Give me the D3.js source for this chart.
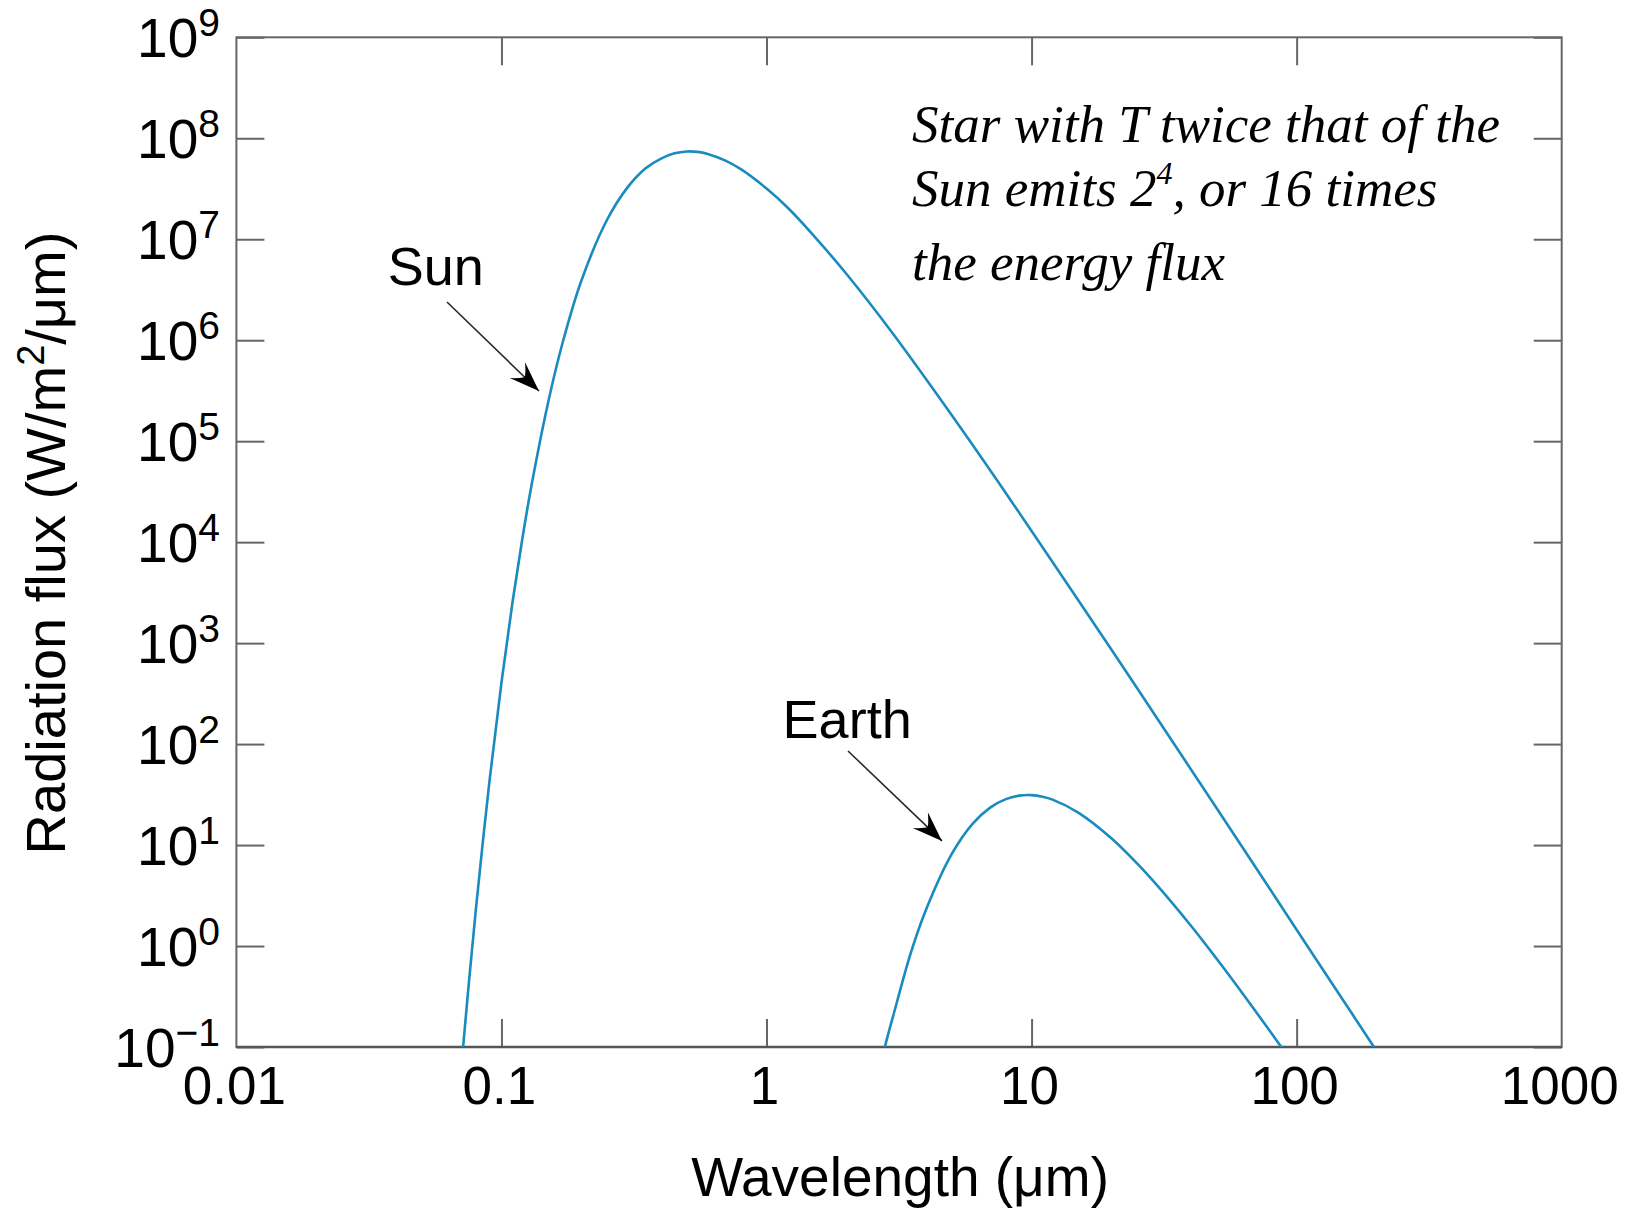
<!DOCTYPE html>
<html><head><meta charset="utf-8">
<script src="https://cdn.jsdelivr.net/npm/d3@7"></script>
<style>
html,body{margin:0;padding:0;background:#fff;}
svg{display:block;}
</style></head>
<body>
<svg id="chart" width="1626" height="1211"></svg>
<script>
// ---- data (wavelength in µm, flux in W/m²/µm) ----
const sunWavelength = [0.07,0.072,0.075,0.08,0.09,0.1,0.11,0.12,0.13,0.15,0.17,0.2,0.25,0.3,0.35,0.4,0.45,0.5,0.55,0.6,0.7,0.8,1,1.2,1.5,2,3,5,7,10,20,30,50,70,100,150,200,220];
const sunFlux = [0.0486,0.115,0.381,2.26,41.8,407,2510,1.10e4,3.72e4,2.42e5,9.38e5,3.86e6,1.55e7,3.3e7,5.05e7,6.29e7,7.09e7,7.40e7,7.33e7,7.00e7,6.01e7,4.94e7,3.18e7,2.06e7,1.10e7,4.55e6,1.16e6,1.81e5,5.10e4,1.29e4,865,174,23.0,6.04,1.45,0.289,0.0918,0.0627];
const earthWavelength = [2.7,2.8,2.9,3,3.5,4,5,6,7,8,9,10,11,12,15,20,25,30,40,50,60,70,80,90,95];
const earthFlux = [0.072,0.102,0.145,0.2,0.85,2.3,8.17,16.3,23.6,28.5,30.9,31.2,30.1,28.2,21.0,11.7,6.59,3.90,1.58,0.744,0.393,0.226,0.139,0.0900,0.0737];

const xTickValues = [0.01,0.1,1,10,100,1000];
const xTickLabels = ["0.01","0.1","1","10","100","1000"];
const yTickExponents = [-1,0,1,2,3,4,5,6,7,8,9];
const yTickBase = "10";
const xInnerTicks = [0.1,1,10,100];

const xTitle = "Wavelength (\u03bcm)";
const yTitleParts = ["Radiation flux (W/m", "2", "/\u03bcm)"];
const sunLabel = "Sun";
const earthLabel = "Earth";
const noteLines = [
  [["Star with T twice that of the", false]],
  [["Sun emits 2", false], ["4", true], [", or 16 times", false]],
  [["the energy flux", false]]
];
const noteLineOffsets = [0, 64, 138];
// annotation anchors, in data units [wavelength, flux]
const sunLabelAt = [0.0372, 3.52e6];
const sunArrow = [[0.0623, 2.39e6], [0.1385, 3.14e5]];
const earthLabelAt = [1.15, 115];
const earthArrow = [[2.03, 85.4], [4.59, 11.0]];
const noteAt = [3.54, 9.18e7];

// ---- layout ----
const W = 1626, H = 1211;
const plot = {left: 236.4, right: 1561.7, top: 37.3, bottom: 1047};
const svg = d3.select("#chart");

const x = d3.scaleLog().domain([0.01, 1000]).range([plot.left, plot.right]);
const y = d3.scaleLog().domain([0.1, 1e9]).range([plot.bottom, plot.top]);

const sans = "'Liberation Sans', Arial, Helvetica, sans-serif";
const serif = "'Liberation Serif', 'Times New Roman', Times, serif";
const frameColor = "#666";
const curveColor = "#1a8bbf";
const tickLen = 28;

svg.append("rect").attr("width", W).attr("height", H).attr("fill", "#fff");

const defs = svg.append("defs");
defs.append("clipPath").attr("id", "clip").append("rect")
  .attr("x", plot.left).attr("y", plot.top)
  .attr("width", plot.right - plot.left).attr("height", plot.bottom - plot.top);
defs.append("marker").attr("id", "arrowhead")
  .attr("viewBox", "-32 -15 34 30").attr("refX", 0).attr("refY", 0)
  .attr("markerWidth", 34).attr("markerHeight", 30)
  .attr("markerUnits", "userSpaceOnUse").attr("orient", "auto")
  .append("path").attr("d", "M0,0 L-30,-11 Q-21,-3 -20,0 Q-21,3 -30,11 Z").attr("fill", "#000");

// ticks (inward on all sides)
function styleAxis(g) {
  g.select(".domain").remove();
  g.selectAll(".tick line").attr("stroke", frameColor).attr("stroke-width", 2);
  g.selectAll(".tick text").remove();
}
const yTickVals = yTickExponents.map(e => Math.pow(10, e));
svg.append("g").attr("transform", `translate(${plot.left},0)`)
  .call(d3.axisLeft(y).tickValues(yTickVals).tickSize(-tickLen).tickFormat(() => "")).call(styleAxis);
svg.append("g").attr("transform", `translate(${plot.right},0)`)
  .call(d3.axisRight(y).tickValues(yTickVals).tickSize(-tickLen).tickFormat(() => "")).call(styleAxis);
svg.append("g").attr("transform", `translate(0,${plot.top})`)
  .call(d3.axisTop(x).tickValues(xInnerTicks).tickSize(-tickLen).tickFormat(() => "")).call(styleAxis);
svg.append("g").attr("transform", `translate(0,${plot.bottom})`)
  .call(d3.axisBottom(x).tickValues(xInnerTicks).tickSize(-tickLen).tickFormat(() => "")).call(styleAxis);

// frame
svg.append("rect")
  .attr("x", plot.left).attr("y", plot.top)
  .attr("width", plot.right - plot.left).attr("height", plot.bottom - plot.top)
  .attr("fill", "none").attr("stroke", frameColor).attr("stroke-width", 2);
svg.append("line").attr("x1", plot.left).attr("x2", plot.right)
  .attr("y1", plot.bottom).attr("y2", plot.bottom)
  .attr("stroke", "#555").attr("stroke-width", 2.6);

// curves
const line = d3.line()
  .x(d => x(d[0])).y(d => y(d[1]))
  .curve(d3.curveCatmullRom.alpha(0.5));
const curves = svg.append("g").attr("clip-path", "url(#clip)");
curves.append("path").datum(d3.zip(sunWavelength, sunFlux))
  .attr("d", line).attr("fill", "none").attr("stroke", curveColor).attr("stroke-width", 2.6);
curves.append("path").datum(d3.zip(earthWavelength, earthFlux))
  .attr("d", line).attr("fill", "none").attr("stroke", curveColor).attr("stroke-width", 2.6);

// y tick labels
const yLab = svg.append("g").attr("font-family", sans).attr("fill", "#000");
yTickExponents.forEach(e => {
  const t = yLab.append("text")
    .attr("x", 220).attr("y", y(Math.pow(10, e)) + 20)
    .attr("text-anchor", "end").attr("font-size", 55);
  t.append("tspan").text(yTickBase);
  t.append("tspan").attr("font-size", 39).attr("dy", -21)
    .text(e < 0 ? "\u2212" + Math.abs(e) : String(e));
});

// x tick labels
svg.append("g").selectAll("text").data(xTickValues).join("text")
  .attr("x", d => x(d) - 2).attr("y", 1104)
  .attr("text-anchor", "middle").attr("font-family", sans).attr("font-size", 53)
  .attr("fill", "#000")
  .text((d, i) => xTickLabels[i]);

// axis titles
svg.append("text")
  .attr("x", (plot.left + plot.right) / 2 + 1).attr("y", 1196)
  .attr("text-anchor", "middle").attr("font-family", sans).attr("font-size", 55)
  .attr("fill", "#000").text(xTitle);

const yt = svg.append("text")
  .attr("transform", "translate(65,543) rotate(-90)")
  .attr("text-anchor", "middle").attr("font-family", sans).attr("font-size", 56)
  .attr("fill", "#000");
yt.append("tspan").text(yTitleParts[0]);
yt.append("tspan").attr("font-size", 38).attr("dy", -21).text(yTitleParts[1]);
yt.append("tspan").attr("dy", 21).text(yTitleParts[2]);

// labels and arrows
svg.append("text").attr("x", x(sunLabelAt[0])).attr("y", y(sunLabelAt[1]))
  .attr("font-family", sans).attr("font-size", 54).attr("fill", "#000").text(sunLabel);
svg.append("text").attr("x", x(earthLabelAt[0])).attr("y", y(earthLabelAt[1]))
  .attr("font-family", sans).attr("font-size", 54).attr("fill", "#000").text(earthLabel);

[sunArrow, earthArrow].forEach(a => {
  svg.append("line")
    .attr("x1", x(a[0][0])).attr("y1", y(a[0][1]))
    .attr("x2", x(a[1][0])).attr("y2", y(a[1][1]))
    .attr("stroke", "#2a2a2a").attr("stroke-width", 1.6)
    .attr("marker-end", "url(#arrowhead)");
});

// italic note
const note = svg.append("g").attr("font-family", serif).attr("font-style", "italic")
  .attr("font-size", 53).attr("fill", "#000");
noteLines.forEach((parts, i) => {
  const t = note.append("text").attr("x", x(noteAt[0])).attr("y", y(noteAt[1]) + noteLineOffsets[i]);
  parts.forEach(([s, sup], j) => {
    const ts = t.append("tspan").text(s);
    if (sup) ts.attr("font-size", 32).attr("dy", -22);
    else if (j > 0 && parts[j - 1][1]) ts.attr("dy", 22);
  });
});
</script>
</body></html>
